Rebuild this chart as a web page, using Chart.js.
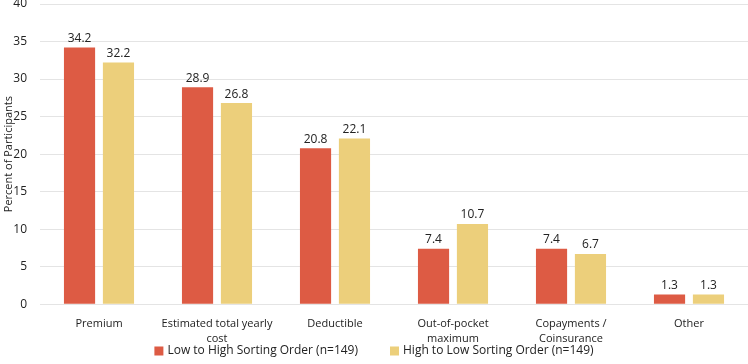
<!DOCTYPE html>
<html>
<head>
<meta charset="utf-8">
<script src="https://cdn.jsdelivr.net/npm/chart.js@4/dist/chart.umd.min.js"></script>
<style>
  html, body { margin: 0; padding: 0; background: #fff; }
  #wrap { width: 748px; height: 364px; }
</style>
</head>
<body>
<div id="wrap"><canvas id="c"></canvas></div>
<script>
// categories + values (percent of participants)
const categories = [
  "Premium",
  ["Estimated total yearly", "cost"],
  "Deductible",
  ["Out-of-pocket", "maximum"],
  ["Copayments /", "Coinsurance"],
  "Other"
];
const lowToHigh = [34.2, 28.9, 20.8, 7.4, 7.4, 1.3];
const highToLow = [32.2, 26.8, 22.1, 10.7, 6.7, 1.3];
const seriesNames = ["Low to High Sorting Order (n=149)", "High to Low Sorting Order (n=149)"];
const colors = ["#dd5b44", "#eccf7b"];

const FONT = "'Open Sans', 'Liberation Sans', sans-serif";
const TXT = "#222";

// value labels above the bars
const valueLabels = {
  id: "valueLabels",
  afterDatasetsDraw(chart) {
    const ctx = chart.ctx;
    ctx.save();
    ctx.font = "12px " + FONT;
    ctx.fillStyle = TXT;
    ctx.textAlign = "center";
    ctx.textBaseline = "bottom";
    chart.data.datasets.forEach((ds, i) => {
      chart.getDatasetMeta(i).data.forEach((bar, j) => {
        ctx.fillText(ds.data[j].toFixed(1), bar.x, bar.y - 3);
      });
    });
    ctx.restore();
  }
};

// bottom legend, drawn by hand so the spacing is tighter than the built-in one
const bottomLegend = {
  id: "bottomLegend",
  afterDraw(chart) {
    const ctx = chart.ctx;
    ctx.save();
    ctx.font = "12px " + FONT;
    ctx.textBaseline = "middle";
    const box = 9, gap = 4, between = 32;
    const items = chart.data.datasets.map(ds => ({
      text: ds.label, color: ds.backgroundColor, w: box + gap + ctx.measureText(ds.label).width
    }));
    const total = items.reduce((s, it) => s + it.w, 0) + between * (items.length - 1);
    let x = (chart.width - total) / 2;
    const y = 351;
    items.forEach(it => {
      ctx.fillStyle = it.color;
      ctx.fillRect(x, y - box / 2, box, box);
      ctx.fillStyle = TXT;
      ctx.fillText(it.text, x + box + gap, y);
      x += it.w + between;
    });
    ctx.restore();
  }
};

new Chart(document.getElementById("c"), {
  type: "bar",
  data: {
    labels: categories,
    datasets: [
      { label: seriesNames[0], data: lowToHigh, backgroundColor: colors[0], categoryPercentage: 0.66, barPercentage: 0.8 },
      { label: seriesNames[1], data: highToLow, backgroundColor: colors[1], categoryPercentage: 0.66, barPercentage: 0.8 }
    ]
  },
  options: {
    responsive: true,
    maintainAspectRatio: false,
    animation: false,
    layout: { padding: { top: 4, right: 0, left: 0, bottom: 14 } },
    scales: {
      y: {
        min: 0,
        max: 40,
        ticks: { stepSize: 5, color: TXT, font: { family: FONT, size: 12 }, padding: 13 },
        grid: { color: "#e4e4e4", drawTicks: false },
        border: { display: false },
        title: {
          display: true,
          text: "Percent of Participants",
          color: TXT,
          font: { family: FONT, size: 11 },
          padding: { top: 2, bottom: 0 }
        },
        afterFit(scale) {
          scale.width = 40;
          scale.paddingTop = 0;
          scale.paddingBottom = 0;
        }
      },
      x: {
        ticks: { color: TXT, font: { family: FONT, size: 11, lineHeight: 1.35 }, padding: 4, maxRotation: 0, autoSkip: false },
        grid: { display: false },
        border: { display: false }
      }
    },
    plugins: {
      legend: { display: false },
      tooltip: { enabled: false }
    }
  },
  plugins: [valueLabels, bottomLegend]
});
</script>
</body>
</html>
